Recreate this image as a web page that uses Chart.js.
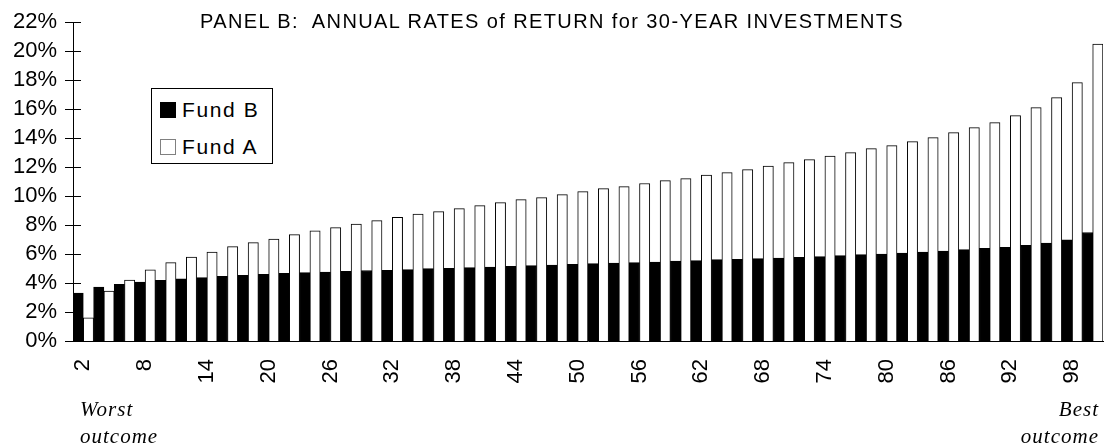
<!DOCTYPE html>
<html lang="en">
<head>
    <meta charset="UTF-8">
    <title>Panel B - Annual Rates of Return</title>
    <script src="https://cdn.jsdelivr.net/npm/chart.js@4.4.0/dist/chart.umd.min.js"></script>
    <style>
        body {
            margin: 0;
            background: #fff;
            font-family: "Liberation Sans", Arial, sans-serif;
        }

        .wrap {
            position: relative;
            width: 1104px;
            height: 448px;
            overflow: hidden;
        }

        canvas {
            position: absolute;
            left: 0;
            top: 0;
        }

        .title {
            position: absolute;
            left: 200px;
            top: 10px;
            font-size: 20px;
            letter-spacing: 1.4px;
            white-space: pre;
            color: #000;
        }

        .legend {
            position: absolute;
            left: 151px;
            top: 88px;
            width: 120px;
            height: 74px;
            border: 1px solid #000;
            background: #fff;
        }

        .legend-item {
            position: absolute;
            left: 8px;
            font-size: 21px;
            letter-spacing: 1.6px;
            line-height: 21px;
        }

        .legend-item span {
            display: inline-block;
            width: 16px;
            height: 16px;
            margin-right: 6px;
            vertical-align: -1px;
            box-sizing: border-box;
        }

        .note {
            position: absolute;
            font-family: "Liberation Serif", "Times New Roman", serif;
            font-style: italic;
            font-size: 21px;
            line-height: 27px;
            letter-spacing: 1px;
        }
    </style>
</head>
<body>
    <div class="wrap">
        <canvas id="returnsChart" width="1104" height="448"></canvas>
        <div class="title">PANEL B:  ANNUAL RATES of RETURN for 30-YEAR INVESTMENTS</div>
        <div class="legend">
            <div class="legend-item" style="top: 10px;"><span style="background:#000;"></span>Fund B</div>
            <div class="legend-item" style="top: 47px;"><span style="background:#fff; border:1px solid #808080;"></span>Fund A</div>
        </div>
        <div class="note" style="left: 80px; top: 396px;">Worst<br>outcome</div>
        <div class="note" style="right: 5px; top: 396px; text-align: right;">Best<br>outcome</div>
    </div>

    <script>
        const categories = ['2', '4', '6', '8', '10', '12', '14', '16', '18', '20',
            '22', '24', '26', '28', '30', '32', '34', '36', '38', '40',
            '42', '44', '46', '48', '50', '52', '54', '56', '58', '60',
            '62', '64', '66', '68', '70', '72', '74', '76', '78', '80',
            '82', '84', '86', '88', '90', '92', '94', '96', '98', '100'];

        const fundB = [3.31, 3.72, 3.91, 4.07, 4.19, 4.28, 4.37, 4.46, 4.53, 4.60,
            4.67, 4.72, 4.76, 4.81, 4.86, 4.88, 4.92, 4.99, 5.01, 5.06,
            5.09, 5.15, 5.20, 5.24, 5.29, 5.34, 5.38, 5.41, 5.45, 5.52,
            5.54, 5.61, 5.63, 5.68, 5.72, 5.77, 5.82, 5.89, 5.96, 6.00,
            6.07, 6.14, 6.21, 6.30, 6.39, 6.46, 6.60, 6.76, 6.97, 7.48];

        const fundA = [1.59, 3.45, 4.21, 4.90, 5.41, 5.79, 6.14, 6.51, 6.79, 7.03,
            7.34, 7.59, 7.82, 8.07, 8.30, 8.53, 8.75, 8.92, 9.13, 9.34,
            9.54, 9.75, 9.89, 10.10, 10.30, 10.51, 10.65, 10.86, 11.06, 11.20,
            11.45, 11.61, 11.82, 12.07, 12.30, 12.51, 12.76, 12.99, 13.27, 13.47,
            13.75, 14.03, 14.37, 14.72, 15.06, 15.54, 16.10, 16.79, 17.82, 20.48];

        const xTickLabels = ['2', '8', '14', '20', '26', '32', '38', '44', '50',
            '56', '62', '68', '74', '80', '86', '92', '98'];

        const yTicks = [0, 2, 4, 6, 8, 10, 12, 14, 16, 18, 20, 22];

        // ticks on the y axis cross the axis line (both sides)
        const crossTicks = {
            id: 'crossTicks',
            afterDraw(chart) {
                const y = chart.scales.y;
                const ctx = chart.ctx;
                ctx.save();
                ctx.strokeStyle = '#000';
                ctx.lineWidth = 1;
                ctx.beginPath();
                yTicks.forEach(function (v) {
                    const py = Math.round(y.getPixelForValue(v)) + 0.5;
                    ctx.moveTo(y.right - 8, py);
                    ctx.lineTo(y.right + 8, py);
                });
                ctx.stroke();
                ctx.restore();
            }
        };

        new Chart(document.getElementById('returnsChart'), {
            type: 'bar',
            data: {
                labels: categories,
                datasets: [{
                    label: 'Fund B',
                    data: fundB,
                    backgroundColor: '#000',
                    borderColor: '#000',
                    borderWidth: 1
                }, {
                    label: 'Fund A',
                    data: fundA,
                    backgroundColor: '#fff',
                    borderColor: '#000',
                    borderWidth: 1
                }]
            },
            options: {
                responsive: false,
                animation: false,
                layout: {
                    padding: { top: 22, right: 1, left: 0, bottom: 0 }
                },
                datasets: {
                    bar: {
                        categoryPercentage: 1.0,
                        barPercentage: 1.0
                    }
                },
                scales: {
                    x: {
                        grid: { display: false, drawTicks: false },
                        border: { display: true, color: '#000', width: 1 },
                        ticks: {
                            autoSkip: false,
                            maxRotation: 90,
                            minRotation: 90,
                            padding: 18,
                            color: '#000',
                            font: { family: '"Liberation Sans", Arial, sans-serif', size: 22 },
                            callback: function (value) {
                                const lab = this.getLabelForValue(value);
                                return xTickLabels.includes(lab) ? lab : '';
                            }
                        },
                        afterFit: function (scale) {
                            scale.height = 107;
                            scale.paddingLeft = 0;
                            scale.paddingRight = 0;
                        }
                    },
                    y: {
                        min: 0,
                        max: 22,
                        grid: { display: false, drawTicks: false },
                        border: { display: true, color: '#000', width: 1 },
                        ticks: {
                            stepSize: 2,
                            autoSkip: false,
                            padding: 16,
                            color: '#000',
                            font: { family: '"Liberation Sans", Arial, sans-serif', size: 22 },
                            callback: function (v) {
                                return v + '%';
                            }
                        },
                        afterFit: function (scale) {
                            scale.width = 73;
                            scale.paddingTop = 0;
                            scale.paddingBottom = 0;
                        }
                    }
                },
                plugins: {
                    legend: { display: false },
                    tooltip: { enabled: false }
                }
            },
            plugins: [crossTicks]
        });
    </script>
</body>
</html>
